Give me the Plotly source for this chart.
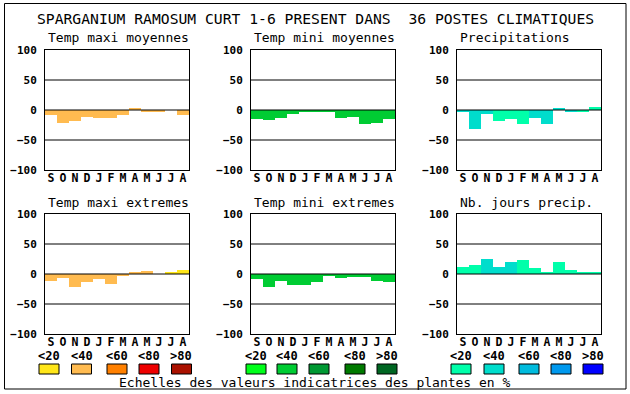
import plotly.graph_objects as go

W, H = 630, 394

months = ["S", "O", "N", "D", "J", "F", "M", "A", "M", "J", "J", "A"]
main_title = "SPARGANIUM RAMOSUM CURT 1-6 PRESENT DANS  36 POSTES CLIMATIQUES"
panel_titles = ["Temp maxi moyennes", "Temp mini moyennes", "Precipitations",
                "Temp maxi extremes", "Temp mini extremes", "Nb. jours precip."]

temp_maxi_moy = [-8, -21, -18, -11, -14, -13, -8, 2, -3, -3, 0, -8]
temp_mini_moy = [-15, -17, -13, -7, -3, -4, -4, -13, -12, -23, -21, -15]
precip = [-4, -31, -6, -18, -15, -23, -13, -24, 2, -4, -3, 5]
temp_maxi_ext = [-11, -6, -21, -13, -8, -16, -3, 4, 5, 0, 2, 7]
temp_mini_ext = [-8, -21, -11, -18, -18, -14, -4, -6, -5, -5, -11, -13]
nb_jours = [12, 15, 25, 12, 20, 23, 10, 2, 20, 7, 4, 2]

# indicator class of each bar (0:<20, 1:<40, 2:<60, 3:<80, 4:>80)
cls_maxi_moy = [1] * 12
cls_mini_moy = [1] * 12
cls_precip = [1, 1, 1, 0, 0, 0, 1, 1, 1, 1, 0, 0]
cls_maxi_ext = [1, 1, 1, 1, 1, 1, 1, 1, 1, 1, 0, 0]
cls_mini_ext = [1] * 12
cls_nb_jours = [0, 0, 1, 1, 1, 0, 0, 0, 0, 0, 0, 0]

legend_labels = ["<20", "<40", "<60", "<80", ">80"]
caption = "Echelles des valeurs indicatrices des plantes en %"

pal_orange = ["#FFE619", "#FFBB50", "#FF8000", "#EE0000", "#AA1100"]
pal_green = ["#00FF1A", "#00CC33", "#009933", "#007A00", "#006622"]
pal_blue = ["#00FFAA", "#00DDCC", "#00BBDD", "#0099EE", "#0000FF"]

panels = [
    (temp_maxi_moy, cls_maxi_moy, pal_orange),
    (temp_mini_moy, cls_mini_moy, pal_green),
    (precip, cls_precip, pal_blue),
    (temp_maxi_ext, cls_maxi_ext, pal_orange),
    (temp_mini_ext, cls_mini_ext, pal_green),
    (nb_jours, cls_nb_jours, pal_blue),
]

col_x = [(45, 189), (251, 395), (457, 601)]
row_y = [(50, 170), (214, 334)]
legend_centers = [[49, 81.5, 117, 149, 181.5],
                  [256, 287, 319, 355, 387],
                  [461, 494, 529, 561, 593]]

FONT = "DejaVu Sans Mono"


def px(x):
    return x / W


def py(y):
    return 1 - y / H


fig = go.Figure()
shapes = []
annotations = []
layout = {}

for i, (vals, cls, pal) in enumerate(panels):
    n = i + 1
    r, c = divmod(i, 3)
    x0, x1 = col_x[c]
    y0, y1 = row_y[r]
    xa = "x" if n == 1 else f"x{n}"
    ya = "y" if n == 1 else f"y{n}"
    fig.add_trace(go.Bar(
        x=list(range(12)), y=vals, xaxis=xa, yaxis=ya,
        marker=dict(color=[pal[k] for k in cls], line=dict(width=0)),
        width=1.0, showlegend=False, hoverinfo="skip",
    ))
    layout["xaxis" if n == 1 else f"xaxis{n}"] = dict(
        domain=[px(x0), px(x1)], anchor=ya, range=[-0.5, 11.5],
        tickmode="array", tickvals=list(range(12)), ticktext=months,
        tickfont=dict(family=FONT, size=11.5, color="black", weight="bold"),
        showgrid=False, zeroline=False, showline=True, mirror=True,
        linecolor="black", linewidth=1, ticks="", fixedrange=True,
        automargin=False, ticklabelstandoff=-3,
    )
    layout["yaxis" if n == 1 else f"yaxis{n}"] = dict(
        domain=[py(y1), py(y0)], anchor=xa, range=[-100, 100],
        tickmode="array", tickvals=[-100, -50, 0, 50, 100],
        tickfont=dict(family=FONT, size=11, color="black", weight="bold"),
        showgrid=False, zeroline=False, showline=True, mirror=True,
        linecolor="black", linewidth=1, ticks="", ticklabelstandoff=5,
        fixedrange=True, automargin=False,
    )
    for yv in (50, 0, -50):
        shapes.append(dict(type="line", xref=f"{xa} domain", yref=ya,
                           x0=0, x1=1, y0=yv, y1=yv, layer="above",
                           line=dict(color="black", width=1)))
    annotations.append(dict(
        text=panel_titles[i], xref="paper", yref="paper",
        x=px(x0 + 1), y=py(y0 - 12), xanchor="left", yanchor="middle",
        showarrow=False, font=dict(family=FONT, size=13, color="black")))

# legend scales
for c in range(3):
    pal = [pal_orange, pal_green, pal_blue][c]
    for k in range(5):
        cx = legend_centers[c][k]
        annotations.append(dict(
            text=legend_labels[k].replace("<", "&lt;").replace(">", "&gt;"),
            xref="paper", yref="paper", x=px(cx), y=py(356),
            xanchor="center", yanchor="middle", showarrow=False,
            font=dict(family=FONT, size=12, color="black", weight="bold")))
        shapes.append(dict(type="rect", xref="paper", yref="paper",
                           x0=px(cx - 10), x1=px(cx + 10), y0=py(374), y1=py(364),
                           fillcolor=pal[k], line=dict(color="black", width=1)))

annotations.append(dict(
    text=caption, xref="paper", yref="paper", x=px(315), y=py(382),
    xanchor="center", yanchor="middle", showarrow=False,
    font=dict(family=FONT, size=13, color="black")))

annotations.append(dict(
    text=main_title, xref="paper", yref="paper", x=px(315), y=py(18),
    xanchor="center", yanchor="middle", showarrow=False,
    font=dict(family=FONT, size=14.7, color="black")))

# outer frame
shapes.append(dict(type="rect", xref="paper", yref="paper",
                   x0=px(4.5), x1=px(626), y0=py(389), y1=py(3.5),
                   line=dict(color="black", width=1), fillcolor="rgba(0,0,0,0)"))

fig.update_layout(
    width=W, height=H, margin=dict(l=0, r=0, t=0, b=0, autoexpand=False),
    paper_bgcolor="white", plot_bgcolor="white",
    bargap=0, shapes=shapes, annotations=annotations, **layout,
)

fig.write_html(
    "out.html",
    config={"displayModeBar": False, "responsive": False},
    post_script="document.body.style.margin='0';document.body.style.overflow='hidden';",
)
